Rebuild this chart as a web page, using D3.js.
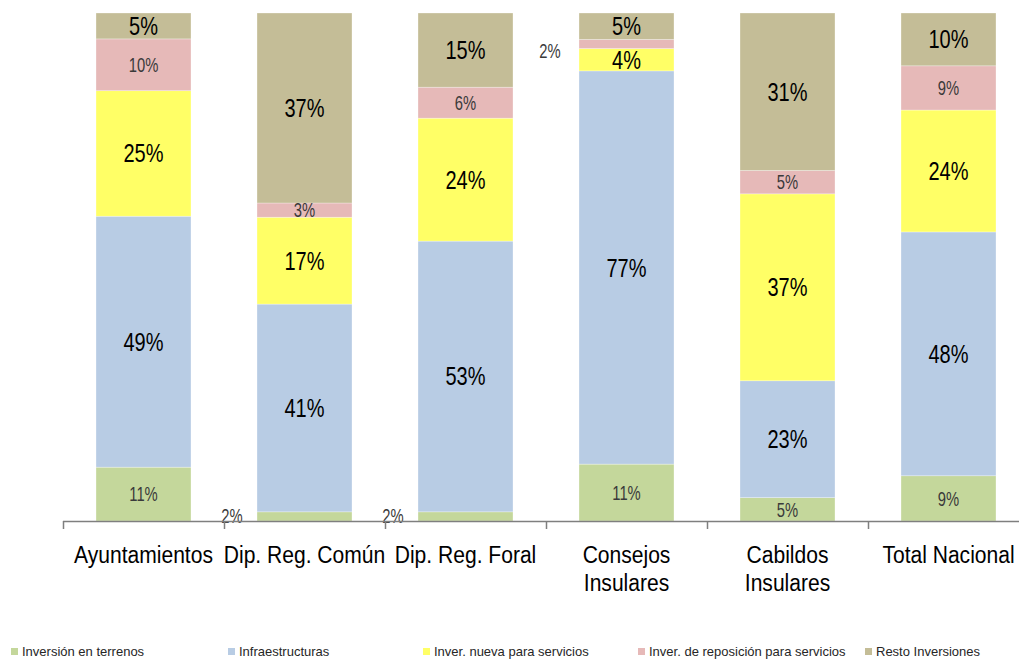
<!DOCTYPE html>
<html>
<head>
<meta charset="utf-8">
<script src="https://cdn.jsdelivr.net/npm/d3@7"></script>
<style>
  html, body { margin: 0; padding: 0; background: #ffffff; }
  svg { display: block; font-family: "Liberation Sans", Arial, sans-serif; }
</style>
</head>
<body>
<div id="chart"></div>
<script>
const categories = ["Ayuntamientos", "Dip. Reg. Común", "Dip. Reg. Foral", "Consejos\nInsulares", "Cabildos\nInsulares", "Total Nacional"];
const seriesNames = ["Inversión en terrenos", "Infraestructuras", "Inver. nueva para servicios", "Inver. de reposición para servicios", "Resto Inversiones"];
const seriesColors = ["#c4d79b", "#b8cce4", "#ffff66", "#e6b9b8", "#c4bd97"];

const terrenos = [10.6, 1.8, 1.8, 11.2, 4.6, 8.9];
const infraestructuras = [49.4, 40.9, 53.3, 77.4, 23.0, 48.0];
const nuevaServicios = [24.7, 17.1, 24.2, 4.4, 36.8, 24.0];
const reposicionServicios = [10.2, 2.8, 6.1, 1.8, 4.6, 8.7];
const restoInversiones = [5.1, 37.4, 14.6, 5.2, 31.0, 10.4];

const allSeries = [terrenos, infraestructuras, nuevaServicios, reposicionServicios, restoInversiones];
// series whose labels are drawn small and grey
const smallLabelSeries = [0, 3];

const width = 1019;
const height = 662;
const margin = { top: 13, bottom: 141, left: 63, right: -10 };

const rows = categories.map((cat, i) => {
  const row = { category: cat };
  seriesNames.forEach((name, s) => { row[name] = allSeries[s][i]; });
  return row;
});

const stack = d3.stack()
  .keys(seriesNames)
  .offset(d3.stackOffsetExpand);
const stacked = stack(rows);

const svg = d3.select("#chart")
  .append("svg")
  .attr("width", width)
  .attr("height", height);

const x = d3.scaleBand()
  .domain(categories)
  .range([margin.left, width - margin.right])
  .paddingInner(0.41)
  .paddingOuter(0.205);

const xTicks = d3.scaleBand()
  .domain(categories)
  .range([margin.left, width - margin.right])
  .padding(0);

const y = d3.scaleLinear()
  .domain([0, 1])
  .range([height - margin.bottom, margin.top]);

const layers = svg.selectAll("g.layer")
  .data(stacked)
  .enter()
  .append("g")
  .attr("class", "layer")
  .attr("fill", (d, i) => seriesColors[i]);

layers.selectAll("rect")
  .data((d) => d)
  .enter()
  .append("rect")
  .attr("x", (d) => x(d.data.category))
  .attr("y", (d) => y(d[1]))
  .attr("width", x.bandwidth())
  .attr("height", (d) => y(d[0]) - y(d[1]))
  .attr("stroke", "#ffffff")
  .attr("stroke-opacity", 0.5)
  .attr("stroke-width", 0.6);

// value labels (tiny segments get their label moved to the left of the bar)
stacked.forEach((layer, s) => {
  const small = smallLabelSeries.includes(s);
  layer.forEach((d) => {
    const value = d.data[layer.key];
    const outside = value < 2;
    const midY = (y(d[0]) + y(d[1])) / 2;
    const lx = outside
      ? x(d.data.category) - (s === 0 ? 25 : 29)
      : x(d.data.category) + x.bandwidth() / 2;
    const ly = outside ? midY + (s === 0 ? -1 : 7) : midY;
    svg.append("text")
      .attr("transform", `translate(${lx},${ly}) scale(${small ? 0.74 : 0.8},1)`)
      .attr("text-anchor", "middle")
      .attr("dy", "0.36em")
      .attr("font-size", small ? 20 : 25)
      .attr("fill", small ? "#3a3a3a" : "#000000")
      .text(`${d3.format(".0f")(value)}%`);
  });
});

// x axis
const axisY = y(0);
svg.append("line")
  .attr("x1", margin.left)
  .attr("x2", width)
  .attr("y1", axisY + 0.5)
  .attr("y2", axisY + 0.5)
  .attr("stroke", "#7f7f7f")
  .attr("stroke-width", 1.5);

svg.selectAll("line.tick")
  .data(categories)
  .enter()
  .append("line")
  .attr("class", "tick")
  .attr("x1", (d) => Math.round(xTicks(d)) + 0.5)
  .attr("x2", (d) => Math.round(xTicks(d)) + 0.5)
  .attr("y1", axisY)
  .attr("y2", axisY + 8)
  .attr("stroke", "#7f7f7f")
  .attr("stroke-width", 1.5);

categories.forEach((cat) => {
  const cx = xTicks(cat) + xTicks.bandwidth() / 2;
  cat.split("\n").forEach((line, li) => {
    svg.append("text")
      .attr("transform", `translate(${cx},${563 + li * 28}) scale(0.86,1)`)
      .attr("text-anchor", "middle")
      .attr("font-size", 24.5)
      .attr("fill", "#000000")
      .text(line);
  });
});

// legend
const legendX = [11, 228, 423, 638, 865];
const legend = svg.selectAll("g.legend")
  .data(seriesNames)
  .enter()
  .append("g")
  .attr("class", "legend")
  .attr("transform", (d, i) => `translate(${legendX[i]},648)`);

legend.append("rect")
  .attr("width", 7)
  .attr("height", 7)
  .attr("fill", (d, i) => seriesColors[i]);

legend.append("text")
  .attr("x", 11)
  .attr("y", 8)
  .attr("font-size", 13)
  .attr("fill", "#262626")
  .text((d) => d);
</script>
</body>
</html>
